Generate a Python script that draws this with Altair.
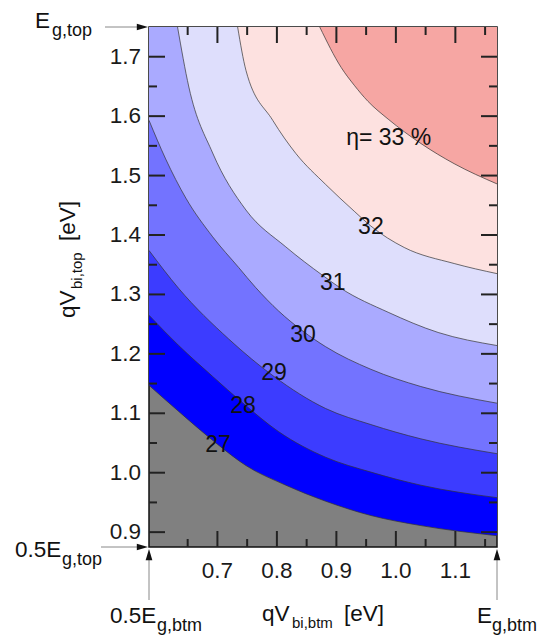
import altair as alt
import pandas as pd

FONT = "Liberation Sans"

# plot domain (0.5*Eg .. Eg)
X_MIN, X_MAX = 0.585, 1.17
Y_MIN, Y_MAX = 0.875, 1.75

# efficiency contour levels (%) and band colours (band above each level)
levels = [27, 28, 29, 30, 31, 32, 33]
band_colors = ["#0000ff", "#3c3cff", "#7373ff", "#aaaaff", "#dedefc", "#fde1e0", "#f6a6a3"]
below_color = "#808080"

# contour lines
c27_x = [0.585, 0.635, 0.700, 0.748, 0.815, 0.882, 0.958, 1.042, 1.170]
c27_y = [1.147, 1.103, 1.048, 1.012, 0.979, 0.952, 0.928, 0.911, 0.894]
c28_x = [0.585, 0.635, 0.692, 0.743, 0.803, 0.882, 0.958, 1.042, 1.170]
c28_y = [1.265, 1.214, 1.162, 1.117, 1.069, 1.026, 1.001, 0.979, 0.958]
c29_x = [0.585, 0.635, 0.719, 0.795, 0.882, 0.958, 1.042, 1.170]
c29_y = [1.374, 1.310, 1.225, 1.162, 1.108, 1.081, 1.057, 1.032]
c30_x = [0.585, 0.613, 0.647, 0.692, 0.736, 0.764, 0.803, 0.844, 0.882, 0.958, 1.042, 1.170]
c30_y = [1.593, 1.528, 1.462, 1.397, 1.345, 1.312, 1.272, 1.238, 1.212, 1.174, 1.145, 1.117]
c31_x = [0.633, 0.652, 0.692, 0.748, 0.815, 0.877, 0.908, 0.987, 1.071, 1.170]
c31_y = [1.750, 1.649, 1.538, 1.442, 1.380, 1.332, 1.310, 1.270, 1.236, 1.214]
c32_x = [0.734, 0.748, 0.793, 0.832, 0.882, 0.930, 0.958, 1.014, 1.098, 1.170]
c32_y = [1.750, 1.677, 1.593, 1.537, 1.485, 1.440, 1.415, 1.379, 1.352, 1.335]
c33_x = [0.872, 0.908, 0.930, 0.953, 0.987, 1.042, 1.098, 1.170]
c33_y = [1.750, 1.682, 1.652, 1.625, 1.595, 1.554, 1.520, 1.486]

contours = {27: (c27_x, c27_y), 28: (c28_x, c28_y), 29: (c29_x, c29_y),
            30: (c30_x, c30_y), 31: (c31_x, c31_y), 32: (c32_x, c32_y),
            33: (c33_x, c33_y)}

# contour labels
label_text = ["27", "28", "29", "30", "31", "32", "η= 33 %"]
label_x = [0.701, 0.743, 0.795, 0.844, 0.894, 0.958, 0.988]
label_y = [1.046, 1.112, 1.167, 1.231, 1.319, 1.413, 1.564]

# ticks
x_major = [0.7, 0.8, 0.9, 1.0, 1.1]
x_minor = [0.65, 0.75, 0.85, 0.95, 1.05, 1.15]
y_major = [0.9, 1.0, 1.1, 1.2, 1.3, 1.4, 1.5, 1.6, 1.7]
y_minor = [0.95, 1.05, 1.15, 1.25, 1.35, 1.45, 1.55, 1.65]

# layout
PADL, PADT = 149, 27
W, H = 348, 520
PADR = 548 - PADL - W
PADB = 641 - PADT - H

xs = alt.Scale(domain=[X_MIN, X_MAX], nice=False, zero=False)
ys = alt.Scale(domain=[Y_MIN, Y_MAX], nice=False, zero=False)

layers = []

# filled bands (each level filled from its contour up to the top)
for i, lev in enumerate(levels):
    cx, cy = contours[lev]
    df = pd.DataFrame({"x": cx, "y": cy})
    layers.append(
        alt.Chart(df).mark_area(color=band_colors[i], interpolate="monotone", clip=True,
                                opacity=1).encode(
            x=alt.X("x:Q", scale=xs, axis=None),
            y=alt.Y("y:Q", scale=ys, axis=None, stack=None),
            y2=alt.datum(Y_MAX),
        )
    )

# contour lines
rows = []
for lev in levels:
    cx, cy = contours[lev]
    for a, b in zip(cx, cy):
        rows.append({"x": a, "y": b, "level": lev})
lines_df = pd.DataFrame(rows)
layers.append(
    alt.Chart(lines_df).mark_line(color="#333333", strokeWidth=0.7, interpolate="monotone",
                                  clip=True).encode(
        x=alt.X("x:Q", scale=xs, axis=None),
        y=alt.Y("y:Q", scale=ys, axis=None),
        detail="level:N",
    )
)

# contour labels
lab_df = pd.DataFrame({"x": label_x, "y": label_y, "t": label_text})
layers.append(
    alt.Chart(lab_df).mark_text(fontSize=23, font=FONT, color="#111",
                                align="center", baseline="middle").encode(
        x=alt.X("x:Q", scale=xs, axis=None),
        y=alt.Y("y:Q", scale=ys, axis=None),
        text="t:N",
    )
)

# inward ticks on all four sides
def xticks(vals, length, top):
    d = pd.DataFrame({"v": vals})
    y0, y1 = (0, length) if top else (H, H - length)
    return alt.Chart(d).mark_rule(color="#222", strokeWidth=2).encode(
        x=alt.X("v:Q", scale=xs, axis=None), y=alt.value(y0), y2=alt.value(y1))

def yticks(vals, length, right):
    d = pd.DataFrame({"v": vals})
    x0, x1 = (W, W - length) if right else (0, length)
    return alt.Chart(d).mark_rule(color="#222", strokeWidth=2).encode(
        y=alt.Y("v:Q", scale=ys, axis=None), x=alt.value(x0), x2=alt.value(x1))

for top in (False, True):
    layers.append(xticks(x_major, 16, top))
    layers.append(xticks(x_minor, 8, top))
for right in (False, True):
    layers.append(yticks(y_major, 16, right))
    layers.append(yticks(y_minor, 8, right))

# tick labels
TICK_FS = 22.5
xl = pd.DataFrame({"v": x_major, "t": [f"{v:.1f}" for v in x_major]})
layers.append(
    alt.Chart(xl).mark_text(fontSize=TICK_FS, font=FONT, color="#1a1a1a", align="center",
                            baseline="top").encode(
        x=alt.X("v:Q", scale=xs, axis=None), y=alt.value(H + 13), text="t:N"))
yl = pd.DataFrame({"v": y_major, "t": [f"{v:.1f}" for v in y_major]})
layers.append(
    alt.Chart(yl).mark_text(fontSize=TICK_FS, font=FONT, color="#1a1a1a", align="right",
                            baseline="middle").encode(
        y=alt.Y("v:Q", scale=ys, axis=None), x=alt.value(-8), text="t:N"))

# text pieces (main text + subscripts), positions in page pixels
def txt(s, px, py, size, angle=0):
    d = pd.DataFrame({"t": [s]})
    kw = dict(align="left", baseline="alphabetic", fontSize=size, font=FONT, color="#111")
    if angle:
        kw["angle"] = angle
    return alt.Chart(d).mark_text(**kw).encode(
        x=alt.value(px - PADL), y=alt.value(py - PADT), text="t:N")

MAIN, SUB, ESUB = 22.5, 15, 18
# x-axis title
layers += [txt("qV", 262, 621, MAIN), txt("bi,btm", 292, 628, SUB), txt("[eV]", 344, 621, MAIN)]
# y-axis title (rotated)
layers += [txt("qV", 75, 318, MAIN, 270), txt("bi,top", 82, 289, SUB, 270),
           txt("[eV]", 75, 241, MAIN, 270)]
# band-gap annotations
layers += [txt("E", 35, 28, MAIN), txt("g,top", 52, 36, ESUB)]
layers += [txt("0.5E", 15, 557, MAIN), txt("g,top", 62, 565, ESUB)]
layers += [txt("0.5E", 110, 623, MAIN), txt("g,btm", 157, 631, ESUB)]
layers += [txt("E", 477, 623, MAIN), txt("g,btm", 492, 631, ESUB)]

# arrows
def seg(x0, y0, x1, y1):
    d = pd.DataFrame({"a": [0]})
    return alt.Chart(d).mark_rule(color="#888", strokeWidth=1).encode(
        x=alt.value(x0 - PADL), x2=alt.value(x1 - PADL),
        y=alt.value(y0 - PADT), y2=alt.value(y1 - PADT))

def head(px, py, direction):
    shape = "M 0 0 L -1 -0.3 L -1 0.3 Z" if direction == "right" else "M 0 0 L -0.3 1 L 0.3 1 Z"
    d = pd.DataFrame({"a": [0]})
    return alt.Chart(d).mark_point(shape=shape, filled=True, color="#111", opacity=1,
                                   size=500, strokeWidth=0).encode(
        x=alt.value(px - PADL), y=alt.value(py - PADT))

layers += [seg(105, 27, 140, 27), head(148, 27, "right")]
layers += [seg(101, 547, 140, 547), head(148, 547, "right")]
layers += [seg(149, 600, 149, 558), head(149, 549, "up")]
layers += [seg(497, 600, 497, 558), head(497, 549, "up")]

chart = alt.layer(*layers).properties(
    width=W, height=H,
    autosize=alt.AutoSizeParams(type="none"),
    padding={"left": PADL, "top": PADT, "right": PADR, "bottom": PADB},
    background="white",
).configure_view(stroke="#111", strokeWidth=1.5, fill=below_color)

chart.save("out.html", embed_options={"renderer": "svg", "actions": False})
